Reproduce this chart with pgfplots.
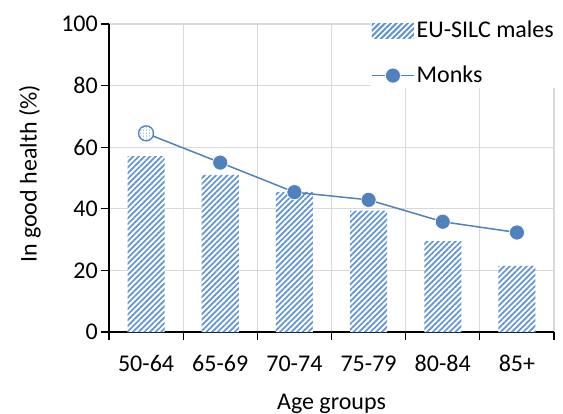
\documentclass[border=0pt]{standalone}
\usepackage{fontspec}
\setmainfont{Carlito}
\usepackage{pgfplots}
\pgfplotsset{compat=1.18}
\usetikzlibrary{patterns,patterns.meta}
\definecolor{mc}{RGB}{79,129,189}
\definecolor{sc}{RGB}{96,148,214}
\definecolor{gc}{RGB}{217,217,217}
\pgfdeclareplotmark{dotcirc}{%
  \pgfpathcircle{\pgfpointorigin}{\pgfplotmarksize}%
  \pgfsetfillcolor{white}\pgfusepath{fill}%
  \pgfsetfillpattern{dots}{mc}%
  \pgfpathcircle{\pgfpointorigin}{\pgfplotmarksize}%
  \pgfusepath{fill}%
  \pgfsetstrokecolor{mc}\pgfsetlinewidth{1.3bp}%
  \pgfpathcircle{\pgfpointorigin}{\pgfplotmarksize}%
  \pgfusepath{stroke}}
\begin{document}
\fontsize{24bp}{29bp}\selectfont
\begin{tikzpicture}
\begin{axis}[
  scale only axis, width=445bp, height=308bp,
  xmin=-0.5, xmax=5.5, ymin=0, ymax=100,
  axis x line*=bottom, axis y line*=left,
  xtick={-0.5,0.5,1.5,2.5,3.5,4.5,5.5},
  xticklabels={50-64,65-69,70-74,75-79,80-84,85+,{}},
  xticklabel style={xshift=37.08bp, anchor=base, yshift=-31bp},
  ytick={0,20,40,60,80,100},
  yticklabel style={anchor=east, xshift=5bp},
  grid=major, grid style={gc, line width=1.3bp},
  tick align=outside, major tick length=8bp,
  tick style={black, line width=1.2bp},
  axis line style={black, line width=1.2bp},
  /pgf/number format/assume math mode=true,
  ticklabel style={font=\fontsize{24bp}{29bp}\selectfont},
  label style={font=\fontsize{24bp}{29bp}\selectfont},
  xlabel={Age groups}, ylabel={In good health (\%)},
  xlabel style={at={(axis description cs:0.5,-0.25)}, anchor=base},
  ylabel style={at={(axis description cs:-0.178,0.513)}, anchor=center, rotate=0},
  legend style={at={(rel axis cs:1,1)}, anchor=north east, xshift=2bp, yshift=5bp,
    draw=none, fill=white, inner sep=0pt, row sep=20bp,
    font=\fontsize{24bp}{29bp}\selectfont},
  legend cell align=left,
]
\addplot[ybar, bar width=37bp, draw=none, fill=white,
  postaction={pattern={Lines[angle=45,distance=4bp,line width=1.7bp]}, pattern color=sc},
  legend image code/.code={%
    \path[fill=white, postaction={pattern={Lines[angle=45,distance=4bp,line width=1.7bp]}, pattern color=sc}]
      (0bp,-7.5bp) rectangle (42bp,7.5bp);}]
  coordinates {(0,57.1) (1,51.0) (2,45.5) (3,39.4) (4,29.5) (5,21.5)};
\addlegendentry{EU-SILC males}
\addplot[mc, line width=1.5bp, mark=*, mark size=7.5bp, mark indices={2,3,4,5,6},
  mark options={fill=mc, draw=white, line width=0.6bp},
  legend image code/.code={%
    \draw[mc, line width=1.5bp] (0bp,0bp) -- (42bp,0bp);
    \path[fill=mc, draw=white, line width=0.6bp] (21bp,0bp) circle (7.5bp);}]
  coordinates {(0,64.5) (1,55.0) (2,45.4) (3,42.9) (4,35.8) (5,32.3)};
\addlegendentry{Monks}
\addplot[only marks, mark=dotcirc, mark size=7.5bp, forget plot]
  coordinates {(0,64.5)};
\end{axis}
\pgfresetboundingbox
\useasboundingbox (-109bp,-82bp) rectangle (454bp,332bp);
\end{tikzpicture}
\end{document}
